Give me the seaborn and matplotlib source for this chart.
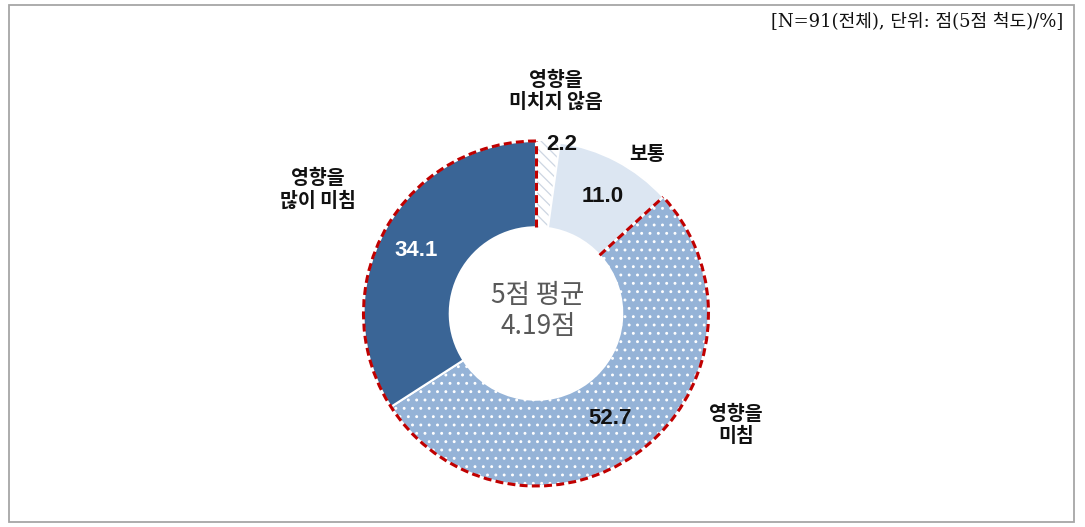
import numpy as np
import matplotlib
matplotlib.use("Agg")
import matplotlib.pyplot as plt
from matplotlib.patches import Arc, Rectangle
import seaborn as sns

# ---- data ----
categories = ["영향을\n미치지 않음", "보통", "영향을\n미침", "영향을\n많이 미침"]
values = [2.2, 11.0, 52.7, 34.1]
value_labels = ["2.2", "11.0", "52.7", "34.1"]
center_text = "5점 평균\n4.19점"
note_text = "[N=91(전체), 단위: 점(5점 척도)/%]"
highlight = [False, False, True, True]

# ---- style ----
sns.set_theme(style="white")
plt.rcParams["font.family"] = ["Noto Sans CJK KR", "DejaVu Sans"]
plt.rcParams["hatch.linewidth"] = 0.9

colors = ["#ffffff", "#dce6f2", "#95b3d7", "#3a6596"]
hatches = ["\\\\\\", None, "..", None]
hatch_colors = ["#cdd6e2", None, "#ffffff", None]

W, H = 1085, 527
fig = plt.figure(figsize=(W / 100, H / 100), dpi=100)
ax = fig.add_axes([0, 0, 1, 1])

# pixel geometry of the donut
cx, cy, R = 536, 313.5, 172.5

def px(x, y):
    return (x - cx) / R, (cy - y) / R

wedges, _ = ax.pie(values, startangle=90, counterclock=False, radius=1.0,
                   colors=colors,
                   wedgeprops=dict(width=0.5, edgecolor="white", linewidth=1.5))
ax.set_aspect("auto")
ax.set_xlim(-cx / R, (W - cx) / R)
ax.set_ylim(-(H - cy) / R, cy / R)
ax.axis("off")

for w, h, hc in zip(wedges, hatches, hatch_colors):
    if h:
        w.set_hatch(h)
        w.set_edgecolor(hc)
        if hc != "#ffffff":
            w.set_linewidth(0)

# red dashed outline around highlighted segments (outer arc + radial edges)
cum = np.cumsum([0] + values)
total = cum[-1]
idx = [i for i, f in enumerate(highlight) if f]
start_frac = cum[idx[0]] / total
end_frac = cum[idx[-1] + 1] / total
ang_a = 90 - 360 * start_frac          # first edge (clockwise start)
ang_b = 90 - 360 * end_frac            # last edge
ls = (0, (2.6, 1.4))
red = "#c00000"
lw = 2.2
ax.add_patch(Arc((0, 0), 2.0, 2.0, theta1=ang_b, theta2=ang_a,
                 edgecolor=red, linewidth=lw, linestyle=ls, zorder=5))
for ang in (ang_a, ang_b):
    t = np.deg2rad(ang)
    ax.plot([0.5 * np.cos(t), np.cos(t)], [0.5 * np.sin(t), np.sin(t)],
            color=red, linewidth=lw, linestyle=ls, zorder=5)

# value labels (layout positions in pixels)
val_pos = [(562, 145), (603, 197), (610, 418), (416, 251)]
val_col = ["#111111", "#111111", "#111111", "#ffffff"]
for t, p, c in zip(value_labels, val_pos, val_col):
    x, y = px(*p)
    ax.text(x, y, t, ha="center", va="center", fontsize=16,
            fontweight="bold", color=c, zorder=6,
            family=["Liberation Sans", "DejaVu Sans"])

# category labels
cat_pos = [(556, 91), (647, 155), (736, 425), (318, 190)]
for t, p in zip(categories, cat_pos):
    x, y = px(*p)
    ax.text(x, y, t, ha="center", va="center", fontsize=14,
            fontweight="bold", color="#111111", linespacing=1.2, zorder=6)

# center text
x, y = px(538, 311)
ax.text(x, y, center_text, ha="center", va="center", fontsize=19,
        color="#595959", linespacing=1.2, zorder=6)

# note top right
fig.text(1063 / W, 1 - 22 / H, note_text, ha="right", va="center",
         fontsize=13, color="#111111",
         family=["DejaVu Serif", "Noto Sans CJK KR"])

# frame
fig.add_artist(Rectangle((9 / W, 5 / H), 1065 / W, 517 / H, transform=fig.transFigure,
                         fill=False, edgecolor="#a6a6a6", linewidth=1.3))

fig.savefig("out.png", dpi=100)
